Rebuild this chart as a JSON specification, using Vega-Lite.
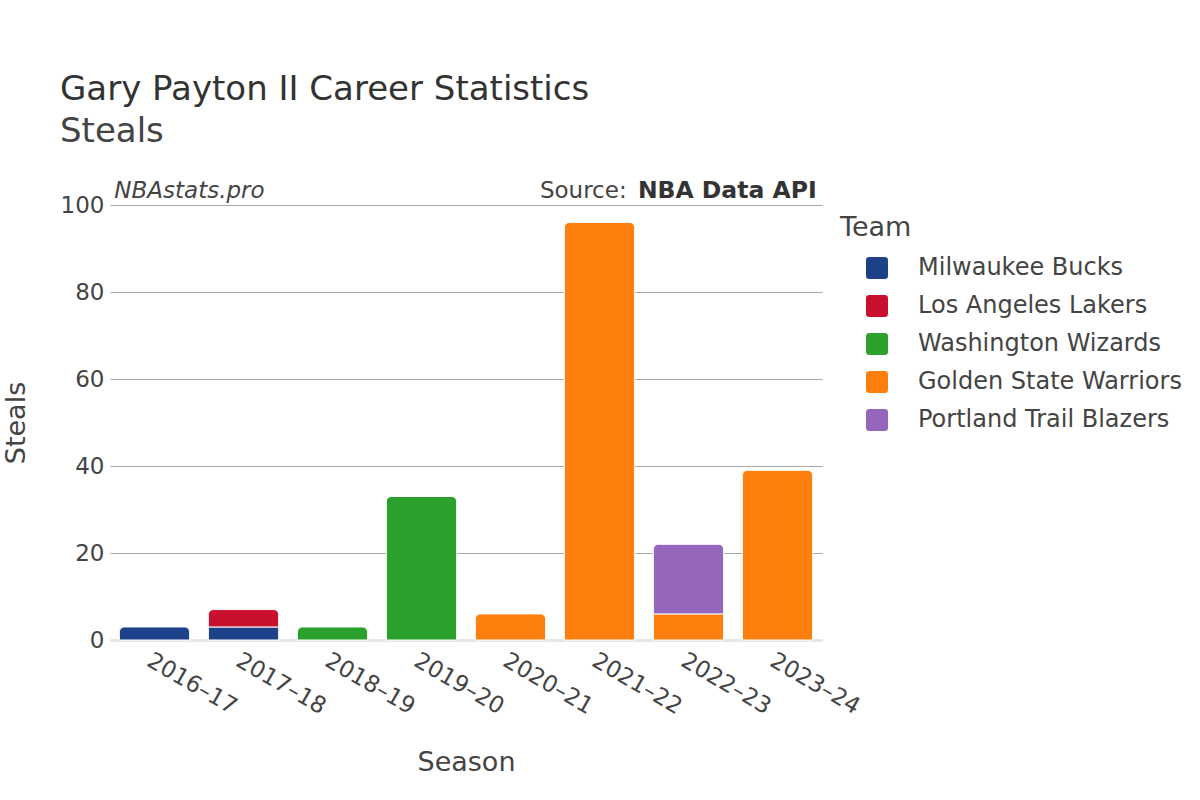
{
  "$schema": "https://vega.github.io/schema/vega-lite/v6.json",
  "width": 712,
  "height": 435,
  "autosize": {"type": "none"},
  "padding": {"left": 110, "top": 205, "right": 378, "bottom": 160},
  "background": "white",
  "config": {"font": "DejaVu Sans", "view": {"stroke": null}},
  "title": {
    "text": "Gary Payton II Career Statistics",
    "subtitle": "Steals",
    "anchor": "start",
    "frame": "group",
    "fontSize": 34,
    "subtitleFontSize": 34,
    "fontWeight": "normal",
    "color": "#333333",
    "subtitleColor": "#444444",
    "subtitleFont": "DejaVu Sans",
    "dx": -50,
    "offset": 30,
    "subtitlePadding": 8
  },
  "data": {
    "values": [
      {"season": "2016–17", "team": "Milwaukee Bucks", "steals": 3},
      {"season": "2017–18", "team": "Milwaukee Bucks", "steals": 3},
      {"season": "2017–18", "team": "Los Angeles Lakers", "steals": 4},
      {"season": "2018–19", "team": "Washington Wizards", "steals": 3},
      {"season": "2019–20", "team": "Washington Wizards", "steals": 33},
      {"season": "2020–21", "team": "Golden State Warriors", "steals": 6},
      {"season": "2021–22", "team": "Golden State Warriors", "steals": 96},
      {"season": "2022–23", "team": "Golden State Warriors", "steals": 6},
      {"season": "2022–23", "team": "Portland Trail Blazers", "steals": 16},
      {"season": "2023–24", "team": "Golden State Warriors", "steals": 39}
    ]
  },
  "layer": [
    {
      "transform": [
        {"calculate": "indexof(['Milwaukee Bucks','Los Angeles Lakers','Washington Wizards','Golden State Warriors','Portland Trail Blazers'], datum.team)", "as": "order"},
        {"stack": "steals", "groupby": ["season"], "sort": [{"field": "order"}], "as": ["y0", "y1"]},
        {"joinaggregate": [{"op": "max", "field": "y1", "as": "top"}], "groupby": ["season"]},
        {"calculate": "datum.y1 == datum.top", "as": "isTop"}
      ],
      "encoding": {
        "x": {
          "field": "season",
          "type": "nominal",
          "title": "Season",
          "scale": {"paddingInner": 0.21, "paddingOuter": 0.105},
          "axis": {
            "labelAngle": 30,
            "labelFontSize": 23,
            "labelColor": "#444444",
            "ticks": false,
            "domainColor": "#e6e6e6",
            "domainWidth": 3,
            "labelPadding": 9,
            "titleFontSize": 27,
            "titleFontWeight": "normal",
            "titleColor": "#444444",
            "titlePadding": 31
          }
        },
        "y": {
          "field": "y1",
          "type": "quantitative",
          "title": "Steals",
          "scale": {"domain": [0, 100]},
          "axis": {
            "values": [0, 20, 40, 60, 80, 100],
            "grid": true,
            "gridColor": "#a8a8a8",
            "domain": false,
            "ticks": false,
            "labelFontSize": 23,
            "labelColor": "#444444",
            "labelPadding": 6,
            "titleFontSize": 27,
            "titleFontWeight": "normal",
            "titleColor": "#444444",
            "titlePadding": 30
          }
        },
        "y2": {"field": "y0"},
        "color": {
          "field": "team",
          "type": "nominal",
          "title": "Team",
          "scale": {
            "domain": ["Milwaukee Bucks", "Los Angeles Lakers", "Washington Wizards", "Golden State Warriors", "Portland Trail Blazers"],
            "range": ["#1d428a", "#c8102e", "#2ca02c", "#ff7f0e", "#9467bd"]
          },
          "legend": {
            "orient": "right",
            "offset": 8,
            "padding": 10,
            "titleFontSize": 27,
            "titleFontWeight": "normal",
            "titleColor": "#444444",
            "labelFontSize": 24,
            "labelColor": "#444444",
            "labelLimit": 400,
            "symbolType": "M -0.7 -1 L 0.7 -1 Q 1 -1 1 -0.7 L 1 0.7 Q 1 1 0.7 1 L -0.7 1 Q -1 1 -1 0.7 L -1 -0.7 Q -1 -1 -0.7 -1 Z",
            "symbolSize": 484,
            "symbolStrokeWidth": 0,
            "symbolOpacity": 1,
            "symbolOffset": 25,
            "labelOffset": 29,
            "rowPadding": 14,
            "titlePadding": 14
          }
        }
      },
      "layer": [
        {
          "transform": [{"filter": "!datum.isTop"}],
          "mark": {"type": "bar", "stroke": "white", "strokeWidth": 1}
        },
        {
          "transform": [{"filter": "datum.isTop"}],
          "mark": {"type": "bar", "stroke": "white", "strokeWidth": 1, "cornerRadiusTopLeft": 5, "cornerRadiusTopRight": 5}
        }
      ]
    },
    {
      "data": {"values": [{"label": "NBAstats.pro"}]},
      "mark": {"type": "text", "align": "left", "baseline": "alphabetic", "fontStyle": "italic", "fontSize": 23, "color": "#444444", "dx": -5, "dy": -7},
      "encoding": {
        "x": {"datum": "2016–17", "type": "nominal", "bandPosition": 0},
        "y": {"datum": 100, "type": "quantitative"},
        "text": {"field": "label"}
      }
    },
    {
      "data": {"values": [{"label": "NBA Data API"}]},
      "mark": {"type": "text", "align": "right", "baseline": "alphabetic", "fontWeight": "bold", "fontSize": 23.5, "color": "#333333", "dx": 4, "dy": -7},
      "encoding": {
        "x": {"datum": "2023–24", "type": "nominal", "bandPosition": 1},
        "y": {"datum": 100, "type": "quantitative"},
        "text": {"field": "label"}
      }
    },
    {
      "data": {"values": [{"label": "Source:"}]},
      "mark": {"type": "text", "align": "right", "baseline": "alphabetic", "fontSize": 23, "color": "#444444", "dx": -186, "dy": -7},
      "encoding": {
        "x": {"datum": "2023–24", "type": "nominal", "bandPosition": 1},
        "y": {"datum": 100, "type": "quantitative"},
        "text": {"field": "label"}
      }
    }
  ]
}
